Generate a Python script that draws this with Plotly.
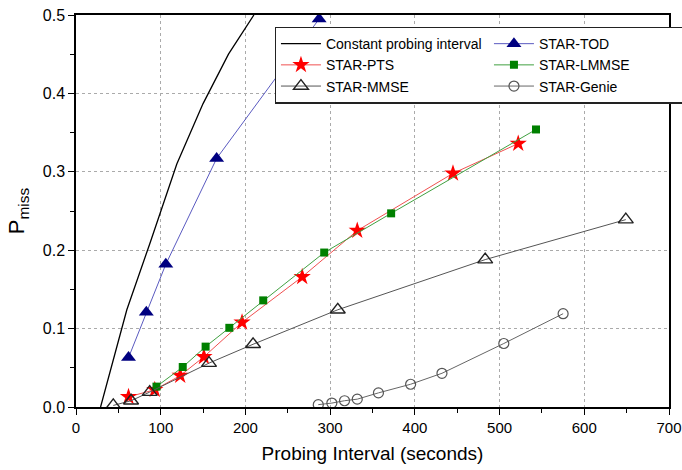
import plotly.graph_objects as go

const_x = [29, 60, 87, 100, 119, 150, 180, 210]
const_y = [0.0, 0.124, 0.208, 0.25, 0.31, 0.387, 0.45, 0.5]

tod_x = [62, 83, 106, 166, 287]
tod_y = [0.063, 0.121, 0.182, 0.317, 0.495]

pts_x = [62, 93, 123, 151, 196, 267, 332, 445, 522]
pts_y = [0.013, 0.022, 0.040, 0.064, 0.108, 0.166, 0.225, 0.298, 0.336]

lmmse_x = [95, 126, 153, 181, 221, 293, 372, 543]
lmmse_y = [0.026, 0.051, 0.077, 0.101, 0.136, 0.197, 0.247, 0.354]

mmse_x = [44, 65, 87, 157, 209, 309, 483, 649]
mmse_y = [0.002, 0.008, 0.019, 0.056, 0.080, 0.124, 0.188, 0.239]

genie_x = [286, 302, 317, 332, 357, 395, 432, 505, 575]
genie_y = [0.003, 0.005, 0.008, 0.010, 0.018, 0.029, 0.043, 0.081, 0.119]

fig = go.Figure()
fig.add_trace(go.Scatter(x=const_x, y=const_y, mode="lines", name="Constant probing interval",
                         line=dict(color="black", width=1.3)))
fig.add_trace(go.Scatter(x=tod_x, y=tod_y, mode="lines+markers", name="STAR-TOD",
                         line=dict(color="#5a5ac0", width=1),
                         marker=dict(symbol="triangle-up", size=13, color="#000080")))
fig.add_trace(go.Scatter(x=pts_x, y=pts_y, mode="lines+markers", name="STAR-PTS",
                         line=dict(color="#f05050", width=1),
                         marker=dict(symbol="star", size=13, color="#ff0000")))
fig.add_trace(go.Scatter(x=lmmse_x, y=lmmse_y, mode="lines+markers", name="STAR-LMMSE",
                         line=dict(color="#40a040", width=1),
                         marker=dict(symbol="square", size=8, color="#008000")))
fig.add_trace(go.Scatter(x=mmse_x, y=mmse_y, mode="lines+markers", name="STAR-MMSE",
                         line=dict(color="#555555", width=1),
                         marker=dict(symbol="triangle-up-open", size=13, color="#222222",
                                     line=dict(width=1.4))))
fig.add_trace(go.Scatter(x=genie_x, y=genie_y, mode="lines+markers", name="STAR-Genie",
                         line=dict(color="#666666", width=1),
                         marker=dict(symbol="circle-open", size=10, color="#555555",
                                     line=dict(width=1.2))))

fig.update_layout(
    width=682, height=470,
    margin=dict(l=76, r=13, t=15, b=63, autoexpand=False),
    plot_bgcolor="white", paper_bgcolor="white",
    font=dict(family="Liberation Sans, Arial, sans-serif", color="black"),
    legend=dict(orientation="h", x=0.335, y=0.97, xanchor="left", yanchor="top",
                bgcolor="white", bordercolor="#222222", borderwidth=1.3,
                font=dict(size=14), entrywidth=158, tracegroupgap=0,
                itemwidth=40),
)
fig.update_xaxes(
    range=[0, 700], dtick=100, tick0=0,
    showline=True, linecolor="black", linewidth=1.5, mirror=True,
    ticks="outside", ticklen=6, tickcolor="black",
    showgrid=True, gridcolor="#aaaaaa", griddash="dot", gridwidth=1,
    zeroline=False, ticklabeloverflow="allow",
    minor=dict(ticks="outside", ticklen=4, dtick=50, tickcolor="black", showgrid=False),
    tickfont=dict(size=15),
    title=dict(text="Probing Interval (seconds)", font=dict(size=19), standoff=12),
)
fig.update_yaxes(
    range=[0, 0.5], dtick=0.1, tick0=0, tickformat=".1f",
    showline=True, linecolor="black", linewidth=1.5, mirror=True,
    ticks="outside", ticklen=6, tickcolor="black",
    showgrid=True, gridcolor="#aaaaaa", griddash="dot", gridwidth=1,
    zeroline=False, ticklabeloverflow="allow",
    minor=dict(ticks="outside", ticklen=4, dtick=0.05, tickcolor="black", showgrid=False),
    tickfont=dict(size=16),
    title=dict(text="P<sub>miss</sub>", font=dict(size=22), standoff=12),
)

fig.write_html("out.html")
